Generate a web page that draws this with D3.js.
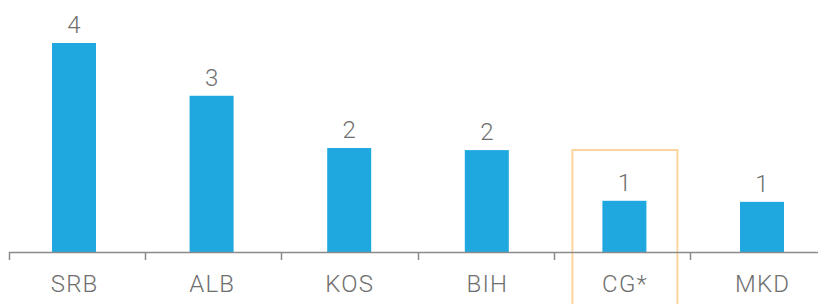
<!DOCTYPE html>
<html>
<head>
<meta charset="utf-8">
<script src="https://cdn.jsdelivr.net/npm/d3@7"></script>
<style>
  html, body { margin: 0; padding: 0; background: #fff; }
  svg { display: block; }
  text { font-family: "Roboto", "Liberation Sans", sans-serif; font-weight: 300; fill: #6f6f6f; }
</style>
</head>
<body>
<svg id="chart" width="818" height="304"></svg>
<script>
const categories = ["SRB", "ALB", "KOS", "BIH", "CG*", "MKD"];
const values = [4.0, 2.99, 1.99, 1.95, 0.98, 0.96];
const highlighted = ["CG*"];

const svg = d3.select("#chart");
const W = 818, H = 304;
const baseY = 252;

// scale for bars and labels
const x = d3.scaleBand().domain(categories).range([5.2, 830.8]).paddingInner(0).paddingOuter(0);
// scale for category boundary ticks
const xb = d3.scaleBand().domain(categories).range([9, 826.2]).paddingInner(0).paddingOuter(0);
const y = d3.scaleLinear().domain([0, 4]).range([baseY, 43]);
const barW = 44;
const cx = d => x(d) + x.bandwidth() / 2;

// highlight box
svg.selectAll("rect.hl").data(highlighted).join("rect")
  .attr("class", "hl")
  .attr("x", d => cx(d) - 52)
  .attr("y", 150)
  .attr("width", 105)
  .attr("height", 170)
  .attr("fill", "none")
  .attr("stroke", "#FDD49E")
  .attr("stroke-width", 2);

// bars
svg.selectAll("rect.bar").data(categories).join("rect")
  .attr("class", "bar")
  .attr("x", d => cx(d) - barW / 2)
  .attr("y", (d, i) => y(values[i]))
  .attr("width", barW)
  .attr("height", (d, i) => baseY - y(values[i]))
  .attr("fill", "#1FA8DF");

// axis labels
const axis = d3.axisBottom(x).tickSize(0).tickFormat(d => d);
const gx = svg.append("g").attr("transform", `translate(0,${baseY})`).call(axis);
gx.select(".domain").remove();
gx.selectAll(".tick text").attr("dy", null).attr("y", 40).attr("dx", 0.6)
  .style("font-size", "24px").style("font-family", "Roboto, 'Liberation Sans', sans-serif")
  .style("font-weight", 300).style("letter-spacing", "1.2px").attr("fill", "#6f6f6f");

svg.append("line").attr("x1", 9).attr("x2", W).attr("y1", baseY + 0.5).attr("y2", baseY + 0.5)
  .attr("stroke", "#8a8a8a").attr("stroke-width", 1.5);

// band boundary ticks
const bounds = categories.map(c => xb(c)).concat([xb(categories[categories.length - 1]) + xb.bandwidth()]);
svg.selectAll("line.tk").data(bounds).join("line")
  .attr("class", "tk")
  .attr("x1", d => Math.round(d) + 0.5).attr("x2", d => Math.round(d) + 0.5)
  .attr("y1", baseY).attr("y2", baseY + 8)
  .attr("stroke", "#8a8a8a").attr("stroke-width", 1.5);

// value labels
svg.selectAll("text.val").data(categories).join("text")
  .attr("class", "val")
  .attr("x", d => cx(d))
  .attr("y", (d, i) => y(values[i]) - 10)
  .attr("text-anchor", "middle")
  .style("font-size", "24px")
  .text((d, i) => d3.format(".0f")(values[i]));
</script>
</body>
</html>
